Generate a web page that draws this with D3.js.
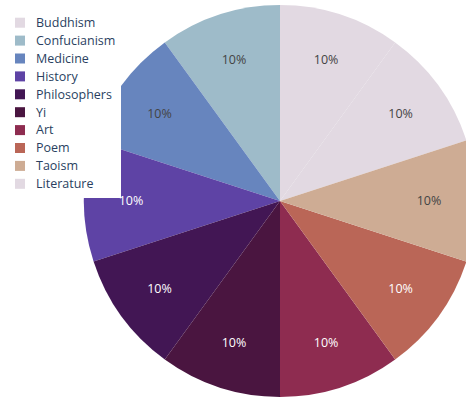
<!DOCTYPE html>
<html>
<head>
<meta charset="utf-8">
<script src="https://cdn.jsdelivr.net/npm/d3@7"></script>
<style>
  body { margin: 0; background: #fff; }
  svg { display: block; font-family: "Open Sans", verdana, arial, sans-serif; }
</style>
</head>
<body>
<div id="vis"></div>
<script>
// legend order
let categories = ['Buddhism', 'Confucianism', 'Medicine', 'History', 'Philosophers',
  'Yi', 'Art', 'Poem', 'Taoism', 'Literature']
let values = [10, 10, 10, 10, 10, 10, 10, 10, 10, 10]
let colors = ['#e2d9e2', '#9ebbc9', '#6785be', '#5e43a5', '#421654',
  '#4a1540', '#8e2c50', '#ba6657', '#ceac94', '#e2d9e2']
let darkText = ['Buddhism', 'Confucianism', 'Medicine', 'Taoism', 'Literature']
// order the slices are laid out (counterclockwise from 72deg)
let sliceOrder = ['Literature', 'Buddhism', 'Confucianism', 'Medicine', 'History',
  'Philosophers', 'Yi', 'Art', 'Poem', 'Taoism']

let width = 466, height = 400
let cx = 280, cy = 201, radius = 196

let svg = d3.select('#vis')
  .append('svg')
  .attr('width', width)
  .attr('height', height)

let color = d3.scaleOrdinal().domain(categories).range(colors)
let data = sliceOrder.map(function (c) {
  return { name: c, value: values[categories.indexOf(c)] }
})
let total = d3.sum(data, function (d) { return d.value })

let start = 72 * Math.PI / 180
let pie = d3.pie()
  .sort(null)
  .value(function (d) { return d.value })
  .startAngle(start)
  .endAngle(start - 2 * Math.PI)

let arc = d3.arc().innerRadius(0).outerRadius(radius)
let labelArc = d3.arc().innerRadius(149).outerRadius(149)

let g = svg.append('g')
  .attr('transform', 'translate(' + cx + ',' + cy + ')')

let slices = g.selectAll('g.slice')
  .data(pie(data))
  .enter()
  .append('g')
  .attr('class', 'slice')

slices.append('path')
  .attr('d', arc)
  .attr('fill', function (d) { return color(d.data.name) })

slices.append('text')
  .attr('transform', function (d) { return 'translate(' + labelArc.centroid(d) + ')' })
  .attr('text-anchor', 'middle')
  .attr('dy', '0.35em')
  .style('font-size', '12.5px')
  .attr('fill', function (d) { return darkText.indexOf(d.data.name) >= 0 ? '#444' : '#fff' })
  .text(function (d) { return d3.format('.0%')(d.data.value / total) })

// legend (white box over the pie)
let legend = svg.append('g')
legend.append('rect')
  .attr('x', 0)
  .attr('y', 0)
  .attr('width', 121)
  .attr('height', 198)
  .attr('fill', '#fff')

let items = legend.selectAll('g.item')
  .data(categories)
  .enter()
  .append('g')
  .attr('class', 'item')
  .attr('transform', function (d, i) { return 'translate(0,' + (22.7 + i * 17.9) + ')' })

items.append('rect')
  .attr('x', 15)
  .attr('y', -5)
  .attr('width', 10)
  .attr('height', 10)
  .attr('fill', function (d) { return color(d) })

items.append('text')
  .attr('x', 36)
  .attr('dy', '0.35em')
  .style('font-size', '12.5px')
  .attr('fill', '#2a3f5f')
  .text(function (d) { return d })
</script>
</body>
</html>
